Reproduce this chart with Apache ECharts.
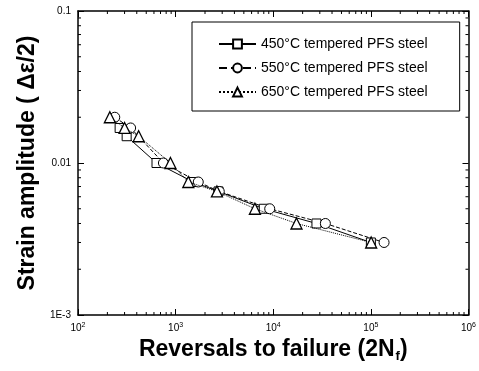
<!DOCTYPE html>
<html>
<head>
<meta charset="utf-8">
<script src="https://cdn.jsdelivr.net/npm/echarts@6/dist/echarts.min.js"></script>
<style>html,body{margin:0;background:#fff}#chart{width:479px;height:371px}</style>
</head>
<body>
<div id="chart"></div>
<script>
const FONT = '"Liberation Sans", Arial, sans-serif';

// reversals to failure (2Nf) / strain amplitude
const names = ['450°C tempered PFS steel', '550°C tempered PFS steel', '650°C tempered PFS steel'];
const x450 = [267, 315, 637, 1516, 2750, 8000, 27700, 100000];
const y450 = [0.017, 0.015, 0.01, 0.0075, 0.0065, 0.005, 0.004, 0.003];
const x550 = [238, 346, 750, 1706, 2800, 9200, 34200, 136500];
const y550 = [0.02, 0.017, 0.01, 0.0075, 0.0065, 0.005, 0.004, 0.003];
const x650 = [212, 300, 418, 885, 1349, 2650, 6490, 17300, 100700];
const y650 = [0.02, 0.017, 0.015, 0.01, 0.0075, 0.0065, 0.005, 0.004, 0.003];

// axis ticks
const xTickExp = [2, 3, 4, 5, 6];
const yTickValues = [0.001, 0.01, 0.1];
const yTickLabels = ['1E-3', '0.01', '0.1'];
const minorMult = [2, 3, 4, 5, 6, 7, 8, 9];
const xDecades = [1e2, 1e3, 1e4, 1e5];
const yDecades = [1e-3, 1e-2];
const xMinor = xDecades.flatMap((d) => minorMult.map((m) => m * d));
const yMinor = yDecades.flatMap((d) => minorMult.map((m) => m * d));

const pairs = (xs, ys) => xs.map((x, i) => [x, ys[i]]);

const AXIS_LINE = { lineStyle: { color: '#000', width: 1.5 } };
const TICK = { inside: true, length: 6, lineStyle: { color: '#000', width: 1 } };
const MARK = { color: '#fff', borderColor: '#000', borderWidth: 1 };

function minorTicks(horizontal) {
  return (params, api) => {
    const cs = params.coordSys;
    const v = api.value(horizontal ? 0 : 1);
    const ls = { stroke: '#000', lineWidth: 1 };
    if (horizontal) {
      const x = api.coord([v, 0.01])[0];
      const b = cs.y + cs.height;
      return { type: 'group', children: [
        { type: 'line', shape: { x1: x, y1: b, x2: x, y2: b - 3 }, style: ls },
        { type: 'line', shape: { x1: x, y1: cs.y, x2: x, y2: cs.y + 3 }, style: ls },
      ] };
    }
    const y = api.coord([1000, v])[1];
    const r = cs.x + cs.width;
    return { type: 'group', children: [
      { type: 'line', shape: { x1: cs.x, y1: y, x2: cs.x + 3, y2: y }, style: ls },
      { type: 'line', shape: { x1: r, y1: y, x2: r - 3, y2: y }, style: ls },
    ] };
  };
}

const chart = echarts.init(document.getElementById('chart'), null, { renderer: 'canvas' });
chart.setOption({
  animation: false,
  textStyle: { fontFamily: FONT },
  grid: { left: 78, right: 8, top: 11, bottom: 56 },
  legend: {
    data: names, orient: 'vertical', left: 192, top: 22,
    itemWidth: 37, itemHeight: 11, itemGap: 10, padding: [15, 32, 12, 26],
    borderColor: '#000', borderWidth: 1, backgroundColor: '#fff',
    textStyle: { fontFamily: FONT, fontSize: 14, color: '#000' },
  },
  xAxis: [
    {
      type: 'log', logBase: 10, min: 100, max: 1e6, position: 'bottom',
      axisLine: AXIS_LINE, axisTick: TICK, splitLine: { show: false },
      axisLabel: {
        margin: 7, color: '#000',
        formatter: (v) => `{b|10}{s|${xTickExp[Math.round(Math.log10(v)) - 2]}}`,
        rich: { b: { fontSize: 10, fontFamily: FONT }, s: { fontSize: 7, fontFamily: FONT, padding: [0, 0, 6, 0] } },
      },
      name: '{n|Reversals to failure (2N}{f|f}{n|)}', nameLocation: 'middle', nameGap: 22,
      nameTextStyle: {
        rich: {
          n: { fontSize: 23, fontWeight: 'bold', fontFamily: FONT, color: '#000' },
          f: { fontSize: 13, fontWeight: 'bold', fontFamily: FONT, color: '#000', padding: [13, 0, 0, 1] },
        },
      },
    },
    {
      type: 'log', logBase: 10, min: 100, max: 1e6, position: 'top',
      axisLine: AXIS_LINE, axisTick: TICK, axisLabel: { show: false }, splitLine: { show: false },
    },
  ],
  yAxis: [
    {
      type: 'log', logBase: 10, min: 0.001, max: 0.1, position: 'left',
      axisLine: AXIS_LINE, axisTick: TICK, splitLine: { show: false },
      axisLabel: {
        margin: 7, color: '#000', fontSize: 10,
        formatter: (v) => yTickLabels[yTickValues.findIndex((t) => Math.abs(Math.log10(t) - Math.log10(v)) < 1e-6)],
      },
      name: 'Strain amplitude ( Δε/2)', nameLocation: 'middle', nameGap: 39,
      nameTextStyle: { fontSize: 23, fontWeight: 'bold', color: '#000', fontFamily: FONT },
    },
    {
      type: 'log', logBase: 10, min: 0.001, max: 0.1, position: 'right',
      axisLine: AXIS_LINE, axisTick: TICK, axisLabel: { show: false }, splitLine: { show: false },
    },
  ],
  series: [
    {
      name: names[0], type: 'line', data: pairs(x450, y450), symbol: 'rect', symbolSize: 9,
      lineStyle: { color: '#000', width: 1, type: 'solid' }, itemStyle: MARK, z: 3,
    },
    {
      name: names[1], type: 'line', data: pairs(x550, y550), symbol: 'circle', symbolSize: 10,
      lineStyle: { color: '#000', width: 1, type: 'dashed' }, itemStyle: MARK, z: 3,
    },
    {
      name: names[2], type: 'line', data: pairs(x650, y650), symbol: 'triangle', symbolSize: 11,
      lineStyle: { color: '#000', width: 1, type: 'dotted' }, itemStyle: { ...MARK, borderWidth: 1.3 }, z: 4,
    },
    {
      type: 'custom', silent: true, clip: false, data: xMinor.map((v) => [v, 0.01]),
      renderItem: minorTicks(true),
    },
    {
      type: 'custom', silent: true, clip: false, data: yMinor.map((v) => [1000, v]),
      renderItem: minorTicks(false),
    },
  ],
});
</script>
</body>
</html>
